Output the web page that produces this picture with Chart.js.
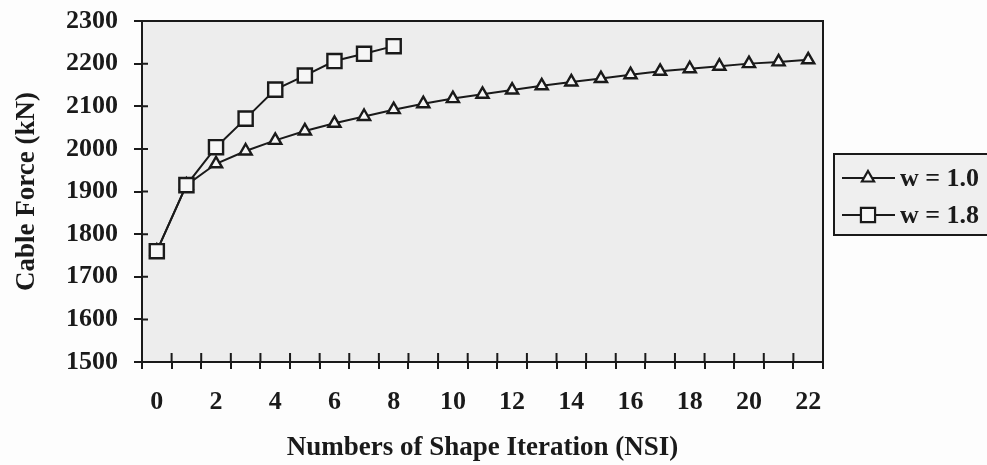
<!DOCTYPE html>
<html>
<head>
<meta charset="utf-8">
<script src="https://cdn.jsdelivr.net/npm/chart.js@4.4.1/dist/chart.umd.min.js"></script>
<style>
  html, body { margin: 0; padding: 0; background: #fdfdfd; }
  #wrap { width: 987px; height: 465px; }
</style>
</head>
<body>
<div id="wrap"><canvas id="myChart" width="987" height="465"></canvas></div>
<script>
// iteration numbers on the x axis
const iterations = ['0','1','2','3','4','5','6','7','8','9','10','11','12','13','14','15','16','17','18','19','20','21','22'];
// cable force (kN)
const forceW10 = [1760, 1915, 1965, 1995, 2020, 2042, 2060, 2076, 2092, 2106, 2118, 2128, 2138, 2148, 2157, 2165, 2174, 2182, 2188, 2194, 2200, 2204, 2209];
const forceW18 = [1760, 1915, 2004, 2071, 2139, 2172, 2206, 2223, 2241];
const seriesNames = ['w = 1.0', 'w = 1.8'];
const yTicks = [1500, 1600, 1700, 1800, 1900, 2000, 2100, 2200, 2300];

const ink = '#1a1a1a';
const serif = '"Liberation Serif", "Times New Roman", serif';

// plot background, frame, and the inner half of the tick marks
const frame = {
    id: 'frame',
    beforeDraw(chart) {
        const {ctx, chartArea: a} = chart;
        ctx.save();
        ctx.fillStyle = '#ededed';
        ctx.fillRect(a.left, a.top, a.right - a.left, a.bottom - a.top);
        ctx.restore();
    },
    afterDraw(chart) {
        const {ctx, chartArea: a, scales} = chart;
        ctx.save();
        ctx.strokeStyle = ink;
        ctx.lineWidth = 2;
        ctx.strokeRect(a.left, a.top, a.right - a.left, a.bottom - a.top);
        ctx.beginPath();
        yTicks.forEach(v => {
            const py = scales.y.getPixelForValue(v);
            ctx.moveTo(a.left, py);
            ctx.lineTo(a.left + 6, py);
        });
        for (let i = 0; i < iterations.length - 1; i++) {
            const px = (scales.x.getPixelForValue(i) + scales.x.getPixelForValue(i + 1)) / 2;
            ctx.moveTo(px, a.bottom);
            ctx.lineTo(px, a.bottom - 9);
        }
        ctx.stroke();
        ctx.restore();
    }
};

// boxed legend on the right, like the original
const boxLegend = {
    id: 'boxLegend',
    afterDraw(chart) {
        const {ctx} = chart;
        const left = 834, top = 154, bottom = 235;
        ctx.save();
        ctx.fillStyle = '#efefef';
        ctx.fillRect(left, top, 200, bottom - top);
        ctx.strokeStyle = ink;
        ctx.lineWidth = 2;
        ctx.strokeRect(left, top, 200, bottom - top);
        chart.data.datasets.forEach((ds, i) => {
            const y = 178 + i * 37;
            ctx.strokeStyle = ink;
            ctx.lineWidth = 2;
            ctx.beginPath();
            ctx.moveTo(842, y);
            ctx.lineTo(895, y);
            ctx.stroke();
            ctx.fillStyle = '#f6f6f6';
            ctx.lineWidth = 2.2;
            Chart.helpers.drawPoint(ctx, {pointStyle: ds.pointStyle, radius: ds.pointRadius, rotation: 0, borderWidth: 2.2}, 868, y);
            ctx.fillStyle = ink;
            ctx.font = 'bold 26px ' + serif;
            ctx.textBaseline = 'middle';
            ctx.textAlign = 'left';
            ctx.fillText(ds.label, 900, y + 1);
        });
        ctx.restore();
    }
};

new Chart(document.getElementById('myChart'), {
    type: 'line',
    data: {
        labels: iterations,
        datasets: [{
            label: seriesNames[0],
            data: forceW10,
            borderColor: ink,
            borderWidth: 2,
            pointStyle: 'triangle',
            pointRadius: 7,
            pointBackgroundColor: '#f6f6f6',
            pointBorderColor: ink,
            pointBorderWidth: 2.4,
            tension: 0,
            order: 1
        }, {
            label: seriesNames[1],
            data: forceW18,
            borderColor: ink,
            borderWidth: 2,
            pointStyle: 'rect',
            pointRadius: 10,
            pointBackgroundColor: '#f6f6f6',
            pointBorderColor: ink,
            pointBorderWidth: 2.4,
            tension: 0,
            order: 0
        }]
    },
    options: {
        responsive: false,
        animation: false,
        layout: { padding: { top: 21, right: 164, left: 0, bottom: 0 } },
        plugins: {
            legend: { display: false },
            tooltip: { enabled: false }
        },
        scales: {
            x: {
                type: 'category',
                offset: true,
                grid: { offset: true, drawOnChartArea: false, color: ink, lineWidth: 2, tickLength: 7 },
                border: { color: ink, width: 2 },
                ticks: {
                    autoSkip: false,
                    maxRotation: 0,
                    padding: 18,
                    color: ink,
                    font: { family: serif, size: 26, weight: 'bold' },
                    callback: (v, i) => (i % 2 === 0 ? iterations[i] : '')
                },
                title: {
                    display: true,
                    text: 'Numbers of Shape Iteration (NSI)',
                    color: ink,
                    font: { family: serif, size: 27, weight: 'bold', lineHeight: 1 },
                    padding: { top: 0, bottom: 3 }
                },
                afterFit: s => { s.height = 103; s.paddingLeft = 0; s.paddingRight = 0; }
            },
            y: {
                min: 1500,
                max: 2300,
                grid: { drawOnChartArea: false, color: ink, lineWidth: 2, tickLength: 8 },
                border: { color: ink, width: 2 },
                ticks: {
                    stepSize: 100,
                    padding: 16,
                    color: ink,
                    font: { family: serif, size: 26, weight: 'bold' },
                    callback: v => String(v)
                },
                title: {
                    display: true,
                    text: 'Cable Force (kN)',
                    color: ink,
                    font: { family: serif, size: 27, weight: 'bold', lineHeight: 1 },
                    padding: { top: 14, bottom: 0 }
                },
                afterFit: s => { s.width = 142; s.paddingTop = 0; s.paddingBottom = 0; }
            }
        }
    },
    plugins: [frame, boxLegend]
});
</script>
</body>
</html>
